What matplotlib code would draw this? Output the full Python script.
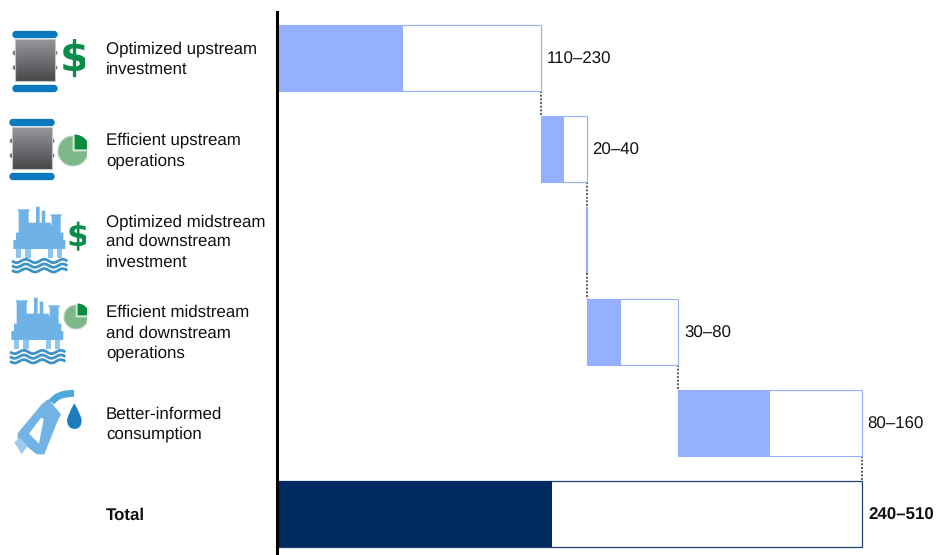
import numpy as np
import matplotlib
matplotlib.use("Agg")
import matplotlib.pyplot as plt
from matplotlib.patches import Polygon, Rectangle, FancyBboxPatch, Wedge, PathPatch, Circle
from matplotlib.path import Path
from matplotlib.transforms import blended_transform_factory

plt.rcParams['font.family'] = ['Liberation Sans', 'DejaVu Sans']
plt.rcParams['text.hinting'] = 'no_hinting'

# ---------- data ----------
categories = ["Optimized upstream\ninvestment", "Efficient upstream\noperations",
              "Optimized midstream\nand downstream\ninvestment",
              "Efficient midstream\nand downstream\noperations",
              "Better-informed\nconsumption"]
low_values = [110, 20, 0, 30, 80]
high_values = [230, 40, 0, 80, 160]
value_labels = ["110–230", "20–40", "", "30–80", "80–160"]
total_name = "Total"
total_low = 240
total_high = 510
total_label = "240–510"

BLUE = '#94b0ff'
NAVY = '#002960'
FS = 12.2
W, H = 937, 555
fig = plt.figure(figsize=(W / 100, H / 100), dpi=100, facecolor='white')

# ---------- chart ----------
top_px, x0_px = 12, 277
px_per_unit = 585 / 510
row_px = 91.2
first_center = 58
ax = fig.add_axes([x0_px / W, 0, 1 - x0_px / W, 1 - top_px / H])
ax.set_xlim(0, (W - x0_px) / px_per_unit)
ax.set_ylim((H - first_center) / row_px, (top_px - first_center) / row_px)
for s in ['top', 'right', 'bottom']:
    ax.spines[s].set_visible(False)
ax.spines['left'].set_linewidth(2.2)
ax.spines['left'].set_color('black')
ax.spines['left'].set_zorder(6)
ax.set_xticks([])
ax.set_yticks([])
bar_h = 66 / row_px

starts = np.concatenate([[0], np.cumsum(high_values)[:-1]])
for i, (s, lo, hi, lab) in enumerate(zip(starts, low_values, high_values, value_labels)):
    ax.barh(i, hi, left=s, height=bar_h, facecolor='white', edgecolor=BLUE,
            linewidth=0.8 if hi else 1.6, zorder=2)
    ax.barh(i, lo, left=s, height=bar_h, facecolor=BLUE, edgecolor='none', zorder=3)
    if lab:
        ax.annotate(lab, (s + hi, i), xytext=(4.1, -1.1), textcoords='offset points',
                    va='center', ha='left', fontsize=FS, color='#111111')
n = len(categories)
ax.barh(n, total_high, height=bar_h, facecolor='white', edgecolor='#1f3f70', linewidth=0.9, zorder=2)
ax.barh(n, total_low, height=bar_h, facecolor=NAVY, edgecolor='none', zorder=3)
ax.annotate(total_label, (total_high, n), xytext=(4.6, -1.1), textcoords='offset points',
            va='center', ha='left', fontsize=FS, fontweight='bold', color='#111111')

ends = starts + np.array(high_values)
for i, e in enumerate(ends):
    ax.plot([e, e], [i + bar_h / 2, i + 1 - bar_h / 2], color='#333333', lw=1.1,
            ls=(0, (1.3, 1.1)), zorder=1)

# ---------- row labels ----------
tr = blended_transform_factory(fig.transFigure, ax.transData)
for i, c in enumerate(categories + [total_name]):
    ax.text(106 / W, i + 1.5 / row_px, c, transform=tr, va='center', ha='left', fontsize=FS,
            linespacing=1.36, color='#111111', clip_on=False,
            fontweight='bold' if i == n else 'normal')

# ---------- icons, drawn in pixel space ----------
ov = fig.add_axes([0, 0, 1, 1], zorder=5)
ov.set_xlim(0, W)
ov.set_ylim(H, 0)
ov.axis('off')
ov.patch.set_alpha(0)

grad = np.linspace(0, 1, 64)[:, None]
gray = matplotlib.colors.LinearSegmentedColormap.from_list('g', ['#96979b', '#48494b'])


def barrel(x, y, w=46, body_h=42):
    for yy in (y, y + body_h + 12):
        ov.add_patch(FancyBboxPatch((x + 2, yy + 1.5), w - 4, 4, boxstyle='round,pad=0,rounding_size=2',
                                    mutation_aspect=1, fc='#0b79bd', ec='#0b79bd', lw=2.4))
    ov.imshow(grad, extent=(x + 3, x + w - 3, y + 8 + body_h, y + 8), cmap=gray, aspect='auto', zorder=2)
    ov.add_patch(Rectangle((x + 3, y + 8), w - 6, body_h, fc='none', ec='#c4c5c7', lw=0.8, zorder=3))
    for frac in (0.33, 0.68):
        for xx in (x + 3, x + w - 3):
            ov.add_patch(Circle((xx, y + 8 + frac * body_h), 2.4, fc='#77787a', ec='none', zorder=1))


def dollar(cx, cy, size, clip_x):
    t = ov.text(cx, cy, '$', fontsize=size, fontweight='bold', color='#0a8c4a', ha='center', va='center',
                family='DejaVu Sans')
    t.set_clip_path(Rectangle((0, 0), clip_x, H, transform=ov.transData))
    t.set_clip_on(True)


def pie(cx, cy, r, clip_x):
    clip = Rectangle((0, 0), clip_x, H, transform=ov.transData)
    a = Wedge((cx, cy), r, 0, 270, fc='#7fb888', ec='#b8d4bc', lw=0.8)  # y axis inverted
    b = Wedge((cx + 1.5, cy - 1.5), r, 270, 360, fc='#0a8c3f', ec='none')
    for p in (a, b):
        ov.add_patch(p)
        p.set_clip_path(clip)


LIGHT = '#6fb2e6'
SILH = [(40, 120), (48, 120), (48, 98), (56, 98), (56, 35), (52, 28), (90, 28), (86, 35), (86, 68),
        (108, 68), (108, 20), (119, 20), (119, 68), (125, 68), (125, 32), (136, 32), (136, 68),
        (152, 68), (155, 80), (155, 50), (150, 43), (187, 43), (182, 50), (182, 98), (190, 98),
        (190, 120), (196, 120), (196, 147), (40, 147)]


def platform(dx, dy):
    conv = lambda p: (p[0] / 3 + dx, p[1] / 3 + 200 + dy)
    ov.add_patch(Polygon([conv(p) for p in SILH], fc=LIGHT, ec='none'))
    for a, b in [(48, 64), (76, 92), (143, 159), (170, 186)]:
        ov.add_patch(Polygon([conv(q) for q in [(a, 147), (b, 147), (b, 175), (a, 175)]],
                             fc='#8ec5ec', ec='none'))
    xs = np.linspace(36, 202, 80)
    for y0 in (183, 197, 211):
        ys = y0 + 5 * np.sin((xs - 36) / 166 * 2 * np.pi * 3)
        ov.plot(xs / 3 + dx, ys / 3 + 200 + dy, color='#3d93c6', lw=2.0, solid_capstyle='butt')


def nozzle():
    conv = lambda p: (p[0] / 3 + 5, p[1] / 3 + 385)
    body = [(38, 145), (110, 58), (130, 42), (168, 88), (155, 115), (118, 208), (95, 208), (38, 162)]
    ov.add_patch(Polygon([conv(p) for p in body], fc='#72b3e6', ec='none'))
    inner = [(72, 146), (108, 98), (116, 102), (102, 176)]
    ov.add_patch(Polygon([conv(p) for p in inner], fc='white', ec='none'))
    ov.add_patch(Polygon([conv(p) for p in [(28, 172), (45, 158), (68, 182), (50, 208)]], fc='#9cc9ec', ec='none'))
    hose = Path([conv((140, 52)), conv((155, 25)), conv((207, 25))], [Path.MOVETO, Path.CURVE3, Path.CURVE3])
    ov.add_patch(PathPatch(hose, fc='none', ec='#4fa8dc', lw=5, capstyle='butt'))
    drop = Path([conv((208, 55)), conv((190, 85)), conv((186, 105)), conv((186, 130)), conv((208, 132)),
                 conv((230, 132)), conv((230, 105)), conv((226, 85)), conv((208, 55))],
                [Path.MOVETO, Path.CURVE3, Path.CURVE3, Path.CURVE3, Path.CURVE3,
                 Path.CURVE3, Path.CURVE3, Path.CURVE3, Path.CURVE3])
    ov.add_patch(PathPatch(drop, fc='#1b7dbb', ec='none'))


barrel(12, 31)
dollar(74, 60, 30, 85)
barrel(9, 119)
pie(73, 151, 15, 87)
platform(0, 0)
dollar(78, 237, 23, 86)
platform(-2, 91)
pie(76, 317, 12, 87)
nozzle()
ov.set_xlim(0, W)
ov.set_ylim(H, 0)

fig.savefig('out.png', dpi=100)
